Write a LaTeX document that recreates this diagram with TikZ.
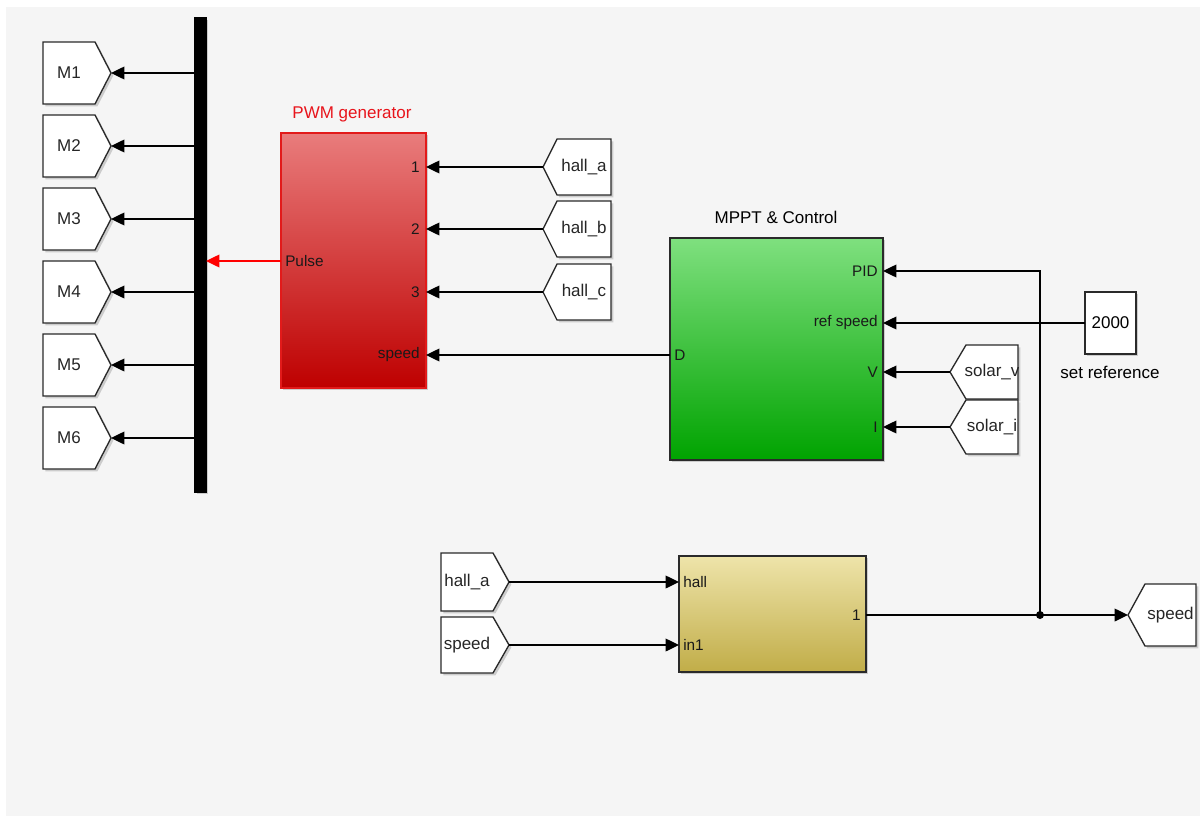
\documentclass[tikz,border=0pt]{standalone}
\usepackage{fontspec}
\setmainfont{Liberation Sans}
\usetikzlibrary{arrows.meta,shadows,calc}
\definecolor{bgc}{HTML}{F5F5F5}
\definecolor{pwmtop}{HTML}{E97C7C}
\definecolor{pwmbot}{HTML}{BE0000}
\definecolor{pwmedge}{HTML}{E21A1A}
\definecolor{grntop}{HTML}{7FE07F}
\definecolor{grnbot}{HTML}{00A300}
\definecolor{yeltop}{HTML}{EEE4AA}
\definecolor{yelbot}{HTML}{C1AD48}
\definecolor{titlered}{HTML}{E8141B}
\definecolor{edgec}{HTML}{2A2A2A}
\newcommand\tagfont{\fontsize{12.75}{15}\selectfont}
\newcommand\portfont{\fontsize{11.5}{13}\selectfont}
\newcommand\mytagR[7]{%
  \draw[tagshape] (#2,#5) -- (#3,#5) -- (#4,{(#5+#6)/2}) -- (#3,#6) -- (#2,#6) -- cycle;
  \coordinate (#1-tip) at (#4,{(#5+#6)/2});
  \begin{scope}
    \clip (#2,#5) -- (#3,#5) -- (#4,{(#5+#6)/2}) -- (#3,#6) -- (#2,#6) -- cycle;
    \node[tagtext] (#1) at ({(#2+#3)/2},{(#5+#6)/2}) {#7};
  \end{scope}}
\newcommand\mytagL[7]{%
  \draw[tagshape] (#4,#5) -- (#3,#5) -- (#2,{(#5+#6)/2}) -- (#3,#6) -- (#4,#6) -- cycle;
  \coordinate (#1-tip) at (#2,{(#5+#6)/2});
  \begin{scope}
    \clip (#4,#5) -- (#3,#5) -- (#2,{(#5+#6)/2}) -- (#3,#6) -- (#4,#6) -- cycle;
    \node[tagtext] (#1) at ({(#3+#4)/2},{(#5+#6)/2}) {#7};
  \end{scope}}
\begin{document}
\begin{tikzpicture}[x=0.75pt,y=-0.75pt,
  shad/.style={drop shadow={shadow xshift=1.8pt,shadow yshift=-1.8pt,opacity=0.35}},
  tagshape/.style={draw=edgec,line width=1pt,fill=white,shad},
  tagtext/.style={inner sep=0pt,font=\tagfont,text=black!85},
  port/.style={inner sep=0pt,font=\portfont,text=black!90},
  block/.style={draw=edgec,line width=1.1pt,inner sep=0pt,outer sep=0pt,shad},
  sig/.style={draw=black,line width=1.05pt,-{Triangle[length=10pt,width=9.5pt]}},
  sigred/.style={draw=red,line width=1.05pt,-{Triangle[length=10pt,width=9.5pt]}}]
\useasboundingbox (0,0) rectangle (1200,821);
\fill[white] (0,0) rectangle (1200,821);
\fill[bgc] (6,7) rectangle (1200,816);

% bus bar (demux)
\node[block,fill=black,draw=black,minimum width=8.25pt,minimum height=355.5pt] (bus) at (200.5,255) {};

% M goto tags
\mytagR{m1}{43}{95}{111}{42}{104}{M1}
\mytagR{m2}{43}{95}{111}{115}{177}{M2}
\mytagR{m3}{43}{95}{111}{188}{250}{M3}
\mytagR{m4}{43}{95}{111}{261}{323}{M4}
\mytagR{m5}{43}{95}{111}{334}{396}{M5}
\mytagR{m6}{43}{95}{111}{407}{469}{M6}

% PWM generator
\node[block,draw=pwmedge,top color=pwmtop,bottom color=pwmbot,minimum width=108.75pt,minimum height=191.25pt] (pwm) at (353.5,260.5) {};
\node[font=\tagfont,text=titlered,inner sep=0pt] (pwmtitle) at (352,114) {PWM generator};
\node[port,anchor=west] (pulse) at (285,261) {Pulse};
\node[port,anchor=east] (p1) at (420,167) {1};
\node[port,anchor=east] (p2) at (420,229) {2};
\node[port,anchor=east] (p3) at (420,292) {3};
\node[port,anchor=east] (pspeed) at (420,355) {speed};

% hall from tags
\mytagL{ha}{543}{557}{611}{139}{195}{hall\_a}
\mytagL{hb}{543}{557}{611}{201}{257}{hall\_b}
\mytagL{hc}{543}{557}{611}{264}{320}{hall\_c}

% MPPT & Control
\node[block,top color=grntop,bottom color=grnbot,minimum width=159.75pt,minimum height=166.5pt] (mppt) at (776.5,349) {};
\node[font=\tagfont,inner sep=0pt] (mppttitle) at (776,217) {MPPT \& Control};
\node[port,anchor=west] (pd) at (674,355) {D};
\node[port,anchor=east] (ppid) at (878,271) {PID};
\node[port,anchor=east] (pref) at (878,323) {ref speed};
\node[port,anchor=east] (pv) at (878,372) {V};
\node[port,anchor=east] (pi) at (878,427) {I};

% solar tags
\mytagL{sv}{950}{966}{1018}{345}{399}{solar\_v}
\mytagL{si}{950}{966}{1018}{400}{454}{solar\_i}

% constant
\node[block,fill=white,minimum width=38.25pt,minimum height=46.5pt,font=\tagfont] (const) at (1110.5,323) {2000};
\node[font=\tagfont,inner sep=0pt] (setref) at (1110,372) {set reference};

% lower subsystem
\node[block,top color=yeltop,bottom color=yelbot,minimum width=140.25pt,minimum height=87pt] (yel) at (772.5,614) {};
\node[port,anchor=west] (phall) at (683,582) {hall};
\node[port,anchor=west] (pin1) at (683,645) {in1};
\node[port,anchor=east] (pout) at (861,615) {1};

\mytagR{fa}{441}{493}{509}{553}{611}{hall\_a}
\mytagR{fs}{441}{493}{509}{617}{673}{speed}
\mytagL{gs}{1128}{1145}{1196}{584}{646}{speed}

% connectors
\foreach \m in {m1,m2,m3,m4,m5,m6}{
  \draw[sig] (bus.west |- \m-tip) -- (\m-tip);
}
\draw[sigred] (pwm.west |- pulse) -- (bus.east |- pulse);
\draw[sig] (ha-tip) -- (pwm.east |- ha-tip);
\draw[sig] (hb-tip) -- (pwm.east |- hb-tip);
\draw[sig] (hc-tip) -- (pwm.east |- hc-tip);
\draw[sig] (mppt.west |- pspeed) -- (pwm.east |- pspeed);
\draw[sig] (sv-tip) -- (mppt.east |- sv-tip);
\draw[sig] (si-tip) -- (mppt.east |- si-tip);
\draw[sig] (const.west) -- (mppt.east |- const.west);
\draw[sig] (fa-tip) -- (yel.west |- fa-tip);
\draw[sig] (fs-tip) -- (yel.west |- fs-tip);
\coordinate (jn) at (1040,615);
\draw[sig] (yel.east |- pout) -- (gs-tip);
\draw[sig] (jn) -- (jn |- ppid) -- (mppt.east |- ppid);
\fill (jn) circle (3pt);
\end{tikzpicture}
\end{document}
